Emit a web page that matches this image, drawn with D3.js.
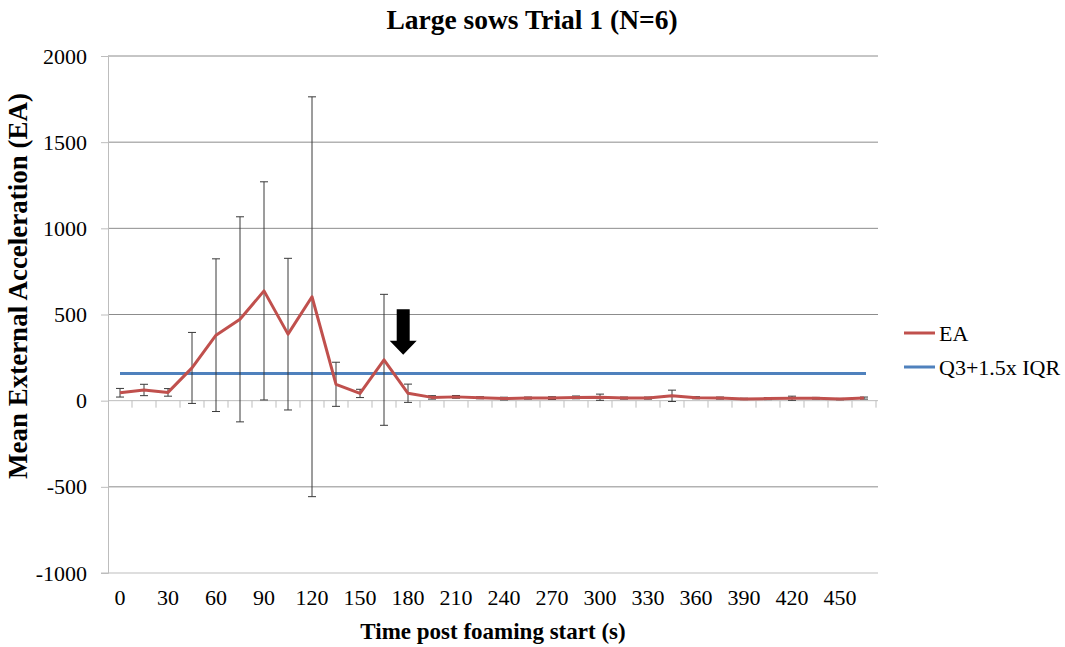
<!DOCTYPE html>
<html>
<head>
<meta charset="utf-8">
<script src="https://cdn.jsdelivr.net/npm/d3@7"></script>
<style>
  body { margin: 0; background: #fff; }
  text { font-family: "Liberation Serif", "Times New Roman", serif; fill: #000; }
</style>
</head>
<body>
<svg id="chart"></svg>
<script>
// time categories (s), one every 15 s
const times = [0, 15, 30, 45, 60, 75, 90, 105, 120, 135, 150, 165, 180, 195, 210, 225,
  240, 255, 270, 285, 300, 315, 330, 345, 360, 375, 390, 405, 420, 435, 450, 465]
// mean EA and its error (+/-)
const eaMean = [46, 62, 48, 190, 380, 472, 637, 386, 603, 95, 42, 237, 43, 19, 22, 17,
  12, 15, 15, 19, 20, 15, 15, 28, 17, 15, 10, 12, 14, 14, 9, 15]
const eaErr = [25, 33, 22, 206, 443, 595, 633, 440, 1160, 128, 24, 380, 53, 10, 8, 6,
  8, 6, 8, 8, 18, 6, 6, 33, 6, 6, 4, 6, 12, 5, 4, 6]
const threshold = 158
const yTicks = [-1000, -500, 0, 500, 1000, 1500, 2000]
const xLabels = [0, 30, 60, 90, 120, 150, 180, 210, 240, 270, 300, 330, 360, 390, 420, 450]
const arrowTime = 177
const arrowFrom = 530, arrowTo = 267

const width = 1065
const height = 647
const plotLeft = 108, plotRight = 876, plotTop = 56, plotBottom = 573

const svg = d3.select('svg#chart')
  .attr('width', width)
  .attr('height', height)

const x = d3.scaleBand()
  .domain(times)
  .range([plotLeft, plotRight])
  .padding(0)
const cx = t => x(t) + x.bandwidth() / 2
// continuous time scale for the arrow annotation
const xt = d3.scaleLinear().domain([0, 15]).range([cx(0), cx(15)])

const y = d3.scaleLinear()
  .domain([-1000, 2000])
  .range([plotBottom, plotTop])

// gridlines
svg.append('g')
  .selectAll('line')
  .data(yTicks.filter(d => d != 0 && d != -1000))
  .join('line')
  .attr('x1', plotLeft).attr('x2', plotRight + 2)
  .attr('y1', d => y(d)).attr('y2', d => y(d))
  .attr('stroke', '#8c8c8c')
  .attr('stroke-width', 1)

// y axis
const yAxis = svg.append('g')
  .attr('transform', `translate(${plotLeft},0)`)
  .call(d3.axisLeft(y).tickValues(yTicks).tickSize(7).tickPadding(14).tickFormat(d => String(d)))
yAxis.select('.domain').attr('stroke', '#bdbdbd')
yAxis.selectAll('.tick line').attr('stroke', '#bdbdbd')
yAxis.selectAll('text')
  .style('font-size', '22px')
  .style('font-family', '"Liberation Serif", serif')
  .attr('fill', '#000')

// bottom line at -1000
svg.append('line')
  .attr('x1', plotLeft - 7).attr('x2', plotRight + 2)
  .attr('y1', y(-1000)).attr('y2', y(-1000))
  .attr('stroke', '#bdbdbd')

// category axis crossing at 0
svg.append('line')
  .attr('x1', plotLeft).attr('x2', plotRight + 2)
  .attr('y1', y(0)).attr('y2', y(0))
  .attr('stroke', '#bdbdbd')
svg.append('g')
  .selectAll('line')
  .data(times)
  .join('line')
  .attr('x1', d => x(d) + x.bandwidth())
  .attr('x2', d => x(d) + x.bandwidth())
  .attr('y1', y(0)).attr('y2', y(0) + 7)
  .attr('stroke', '#bdbdbd')

// x tick labels
svg.append('g')
  .selectAll('text')
  .data(xLabels)
  .join('text')
  .attr('x', d => cx(d))
  .attr('y', 605)
  .attr('text-anchor', 'middle')
  .style('font-size', '22px')
  .text(d => d)

// threshold line
svg.append('line')
  .attr('x1', cx(times[0])).attr('x2', cx(times[times.length - 1]) + 2)
  .attr('y1', y(threshold)).attr('y2', y(threshold))
  .attr('stroke', '#4f81bd')
  .attr('stroke-width', 3)

// error bars
const eb = svg.append('g')
  .attr('stroke', '#3a3a3a')
  .attr('stroke-width', 1)
times.forEach((t, i) => {
  const hi = y(eaMean[i] + eaErr[i]), lo = y(eaMean[i] - eaErr[i])
  eb.append('line').attr('x1', cx(t)).attr('x2', cx(t)).attr('y1', hi).attr('y2', lo)
  eb.append('line').attr('x1', cx(t) - 4).attr('x2', cx(t) + 4).attr('y1', hi).attr('y2', hi)
  eb.append('line').attr('x1', cx(t) - 4).attr('x2', cx(t) + 4).attr('y1', lo).attr('y2', lo)
})

// EA line
const line = d3.line()
  .x((d, i) => cx(times[i]))
  .y(d => y(d))
svg.append('path')
  .datum(eaMean)
  .attr('fill', 'none')
  .attr('stroke', '#c0504d')
  .attr('stroke-width', 3)
  .attr('stroke-linejoin', 'round')
  .attr('d', line)

// arrow annotation
const ax = xt(arrowTime)
const a0 = y(arrowFrom), a1 = y(arrowTo)
const headTop = a1 - 14
svg.append('path')
  .attr('fill', '#000')
  .attr('d', `M${ax - 6.5},${a0} L${ax + 6.5},${a0} L${ax + 6.5},${headTop} L${ax + 13.5},${headTop}
    L${ax},${a1} L${ax - 13.5},${headTop} L${ax - 6.5},${headTop} Z`)

// legend
const legend = svg.append('g').attr('transform', 'translate(904,0)')
const legendItems = [['EA', '#c0504d', 333], ['Q3+1.5x IQR', '#4f81bd', 367]]
legendItems.forEach(([name, color, ly]) => {
  legend.append('line')
    .attr('x1', 0).attr('x2', 31)
    .attr('y1', ly).attr('y2', ly)
    .attr('stroke', color)
    .attr('stroke-width', 3)
  legend.append('text')
    .attr('x', 35).attr('y', ly + 7.5)
    .style('font-size', '22px')
    .text(name)
})

// titles
svg.append('text')
  .attr('x', 532).attr('y', 29)
  .attr('text-anchor', 'middle')
  .style('font-size', '27.5px')
  .style('font-weight', 'bold')
  .text('Large sows Trial 1 (N=6)')

svg.append('text')
  .attr('x', 493).attr('y', 639)
  .attr('text-anchor', 'middle')
  .style('font-size', '23px')
  .style('font-weight', 'bold')
  .text('Time post foaming start (s)')

svg.append('text')
  .attr('transform', 'translate(27,286) rotate(-90)')
  .attr('text-anchor', 'middle')
  .style('font-size', '27px')
  .style('font-weight', 'bold')
  .text('Mean External Acceleration (EA)')
</script>
</body>
</html>
